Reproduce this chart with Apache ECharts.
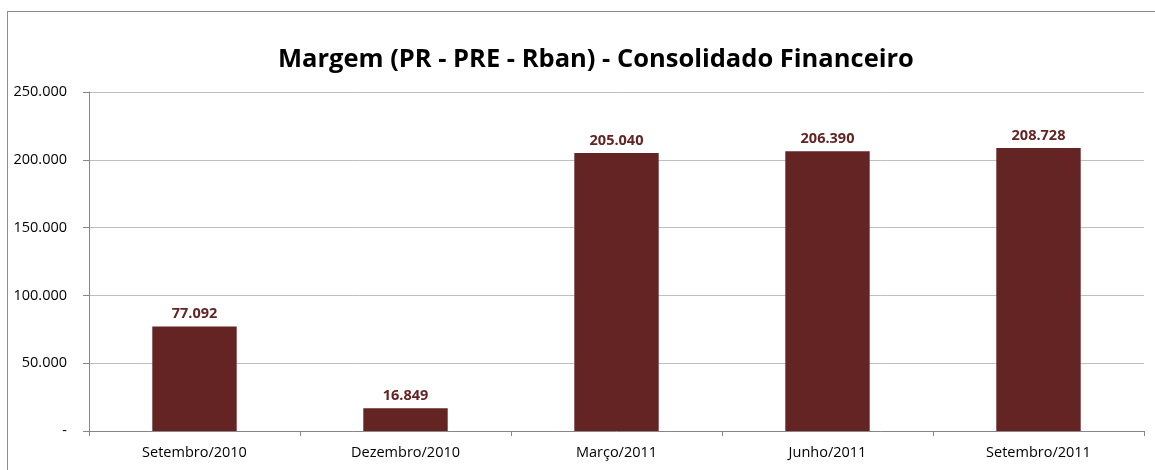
<!DOCTYPE html>
<html>
<head>
<meta charset="utf-8">
<script src="https://cdn.jsdelivr.net/npm/echarts@6/dist/echarts.min.js"></script>
<style>
  html, body { margin: 0; padding: 0; background: #fff; }
  #frame { position: absolute; left: 7px; top: 11px; width: 1160px; height: 470px; border: 1px solid #8c8c8c; box-sizing: border-box; }
  #chart { position: absolute; left: 0; top: 0; width: 1155px; height: 470px; }
</style>
</head>
<body>
<div id="frame"></div>
<div id="chart"></div>
<script>
var categories = ['Setembro/2010', 'Dezembro/2010', 'Março/2011', 'Junho/2011', 'Setembro/2011'];
var margem = [77092, 16849, 205040, 206390, 208728];

// formato brasileiro: 250.000
function fmt(v) {
	if (v === 0) return '-';
	return String(v).replace(/\B(?=(\d{3})+(?!\d))/g, '.');
}

var myChart = echarts.init(document.getElementById('chart'));
var options = {
	animation: false,
	title: {
		text: 'Margem (PR - PRE - Rban) - Consolidado Financeiro',
		left: 273,
		top: 42,
		textStyle: {
			fontFamily: 'Open Sans',
			fontSize: 25.5,
			fontWeight: 'bold',
			color: '#000'
		}
	},
	grid: {
		left: 89,
		right: 11,
		top: 92,
		bottom: 39
	},
	xAxis: [{
		type: 'category',
		data: categories,
		axisLine: { lineStyle: { color: '#868686', width: 1 } },
		axisTick: { show: true, length: 5, alignWithLabel: false, lineStyle: { color: '#868686' } },
		axisLabel: {
			fontFamily: 'Open Sans',
			fontSize: 14.5,
			color: '#000',
			margin: 14
		}
	}],
	yAxis: [{
		type: 'value',
		min: 0,
		max: 250000,
		interval: 50000,
		axisLine: { show: true, lineStyle: { color: '#868686', width: 1 } },
		axisTick: { show: true, length: 6, lineStyle: { color: '#868686' } },
		splitLine: { lineStyle: { color: '#bfbfbf', width: 1 } },
		axisLabel: {
			fontFamily: 'Open Sans',
			fontSize: 14.5,
			color: '#000',
			margin: 22,
			formatter: fmt
		}
	}],
	series: [{
		name: 'Margem',
		type: 'bar',
		data: margem,
		barWidth: '40%',
		itemStyle: { color: '#632423' },
		label: {
			show: true,
			position: 'top',
			distance: 5,
			fontFamily: 'Open Sans',
			fontSize: 14.5,
			fontWeight: 'bold',
			color: '#632423',
			formatter: function(p) { return fmt(p.value); }
		}
	}]
};
myChart.setOption(options, true);
</script>
</body>
</html>
